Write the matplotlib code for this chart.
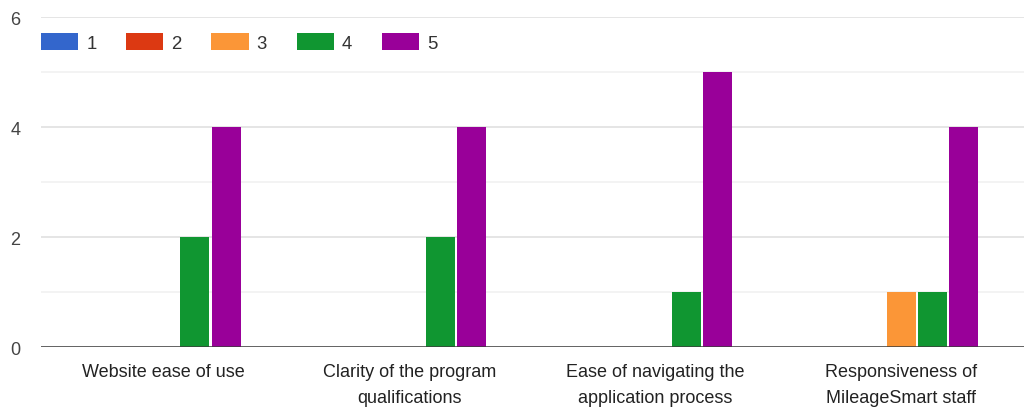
import matplotlib.pyplot as plt
import numpy as np

plt.rcParams['font.family'] = ['Liberation Sans', 'DejaVu Sans']

categories = ['Website ease of use', 'Clarity of the program\nqualifications',
              'Ease of navigating the\napplication process',
              'Responsiveness of\nMileageSmart staff']
ratings = ['1', '2', '3', '4', '5']
count_1 = [0, 0, 0, 0]
count_2 = [0, 0, 0, 0]
count_3 = [0, 0, 0, 1]
count_4 = [2, 2, 1, 1]
count_5 = [4, 4, 5, 4]
colors = ['#3366cc', '#dc3912', '#fb9637', '#109631', '#990099']

series = [count_1, count_2, count_3, count_4, count_5]

fig = plt.figure(figsize=(10.24, 4.1), dpi=100)
ax = fig.add_axes([0.04, 0.151, 0.96, 0.805])

xs = np.arange(len(categories))
step = 0.1265
width = 0.118
for i in range(len(series)):
	ax.bar(xs + (i - 2) * step, series[i], width=width, color=colors[i],
	       label=ratings[i], zorder=3)

ax.set_xlim(-0.5, len(categories) - 0.5)
ax.set_ylim(0, 6)
ax.set_yticks([0, 2, 4, 6])
ax.set_yticks([1, 3, 5], minor=True)
ax.grid(axis='y', which='major', color='#e3e3e3', linewidth=1.3, zorder=0)
ax.grid(axis='y', which='minor', color='#f2f2f2', linewidth=1.3, zorder=0)
ax.axhline(0, color='#3c3c3c', linewidth=1.8, zorder=4)

for s in ax.spines.values():
	s.set_visible(False)
ax.tick_params(axis='y', which='both', length=0, pad=15, labelsize=13, labelcolor='#444444')
ax.tick_params(axis='x', length=0, pad=11.5, labelsize=13, labelcolor='#222222')
ax.set_xticks(xs)
ax.set_xticklabels(categories, linespacing=1.68)

ax.legend(loc='upper left', bbox_to_anchor=(0.0, 0.953), ncol=5, frameon=False,
          fontsize=13.4, handlelength=2.0, handleheight=1.05, handletextpad=0.43,
          columnspacing=1.6, labelcolor='#333333', borderaxespad=0, borderpad=0)

fig.savefig('out.png', dpi=100)
